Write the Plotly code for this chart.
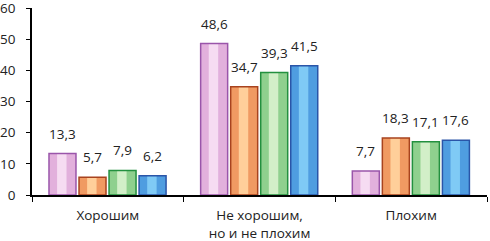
import plotly.graph_objects as go

categories = ["Хорошим", "Не хорошим,<br>но и не плохим", "Плохим"]
series_1 = [13.3, 48.6, 7.7]
series_2 = [5.7, 34.7, 18.3]
series_3 = [7.9, 39.3, 17.1]
series_4 = [6.2, 41.5, 17.6]
y_ticks = [0, 10, 20, 30, 40, 50, 60]

all_series = [series_1, series_2, series_3, series_4]
# (edge, fill, highlight)
styles = [
    ("#9a55aa", "#e2b0dc", "#f6dcf2"),
    ("#a8431e", "#f09a62", "#ffcf9a"),
    ("#23903f", "#8fd08e", "#d2efc8"),
    ("#2a55a8", "#4f9de0", "#7fcaf5"),
]

W, H = 490, 241
ML, MR, MT, MB = 32, 3, 8, 46
cat_px = (W - ML - MR) / len(categories)

step = 0.198
bw = 0.178
start = -0.388

FONT = "Open Sans"

fig = go.Figure()
annotations = []
for i, (vals, (edge, fill, hi)) in enumerate(zip(all_series, styles)):
    off = start + i * step
    fig.add_trace(go.Bar(x=categories, y=vals, offset=off, width=bw,
                         marker=dict(color=fill, line=dict(width=0)),
                         hoverinfo="skip", showlegend=False))
    fig.add_trace(go.Bar(x=categories, y=vals, offset=off + bw * 0.3, width=bw * 0.35,
                         marker=dict(color=hi, line=dict(width=0)),
                         hoverinfo="skip", showlegend=False))
    fig.add_trace(go.Bar(x=categories, y=vals, offset=off, width=bw,
                         marker=dict(color="rgba(0,0,0,0)", line=dict(color=edge, width=1.5)),
                         showlegend=False))
    xshift = (off + bw / 2) * cat_px
    for c, v in zip(categories, vals):
        annotations.append(dict(x=c, y=v, xref="x", yref="y",
                                text=f"{v:.1f}".replace(".", ","),
                                showarrow=False, yanchor="bottom", xanchor="center",
                                xshift=xshift, yshift=9,
                                font=dict(size=13.5, color="#222", family=FONT)))

fig.update_layout(
    width=W, height=H,
    margin=dict(l=ML, r=MR, t=MT, b=MB),
    barmode="overlay",
    plot_bgcolor="white", paper_bgcolor="white",
    font=dict(family=FONT, size=13.5, color="#222"),
    showlegend=False,
    annotations=annotations,
)
fig.update_xaxes(type="category", tickson="boundaries", ticks="outside", ticklen=5,
                 tickcolor="black", showline=True, linecolor="black", linewidth=1.5,
                 showgrid=False, range=[-0.5, 2.5], automargin=False,
                 ticklabelstandoff=7, tickfont=dict(size=13.5))
fig.update_yaxes(range=[0, 60], tickvals=y_ticks, ticks="outside", ticklen=4,
                 tickcolor="black", showline=True, linecolor="black", linewidth=1.5,
                 showgrid=False, zeroline=False, automargin=False,
                 ticklabelstandoff=8, ticklabeloverflow="allow", tickfont=dict(size=13.5))

fig.write_html("out.html", config={"displayModeBar": False},
               post_script="document.body.style.margin='0';document.body.style.overflow='hidden';")
